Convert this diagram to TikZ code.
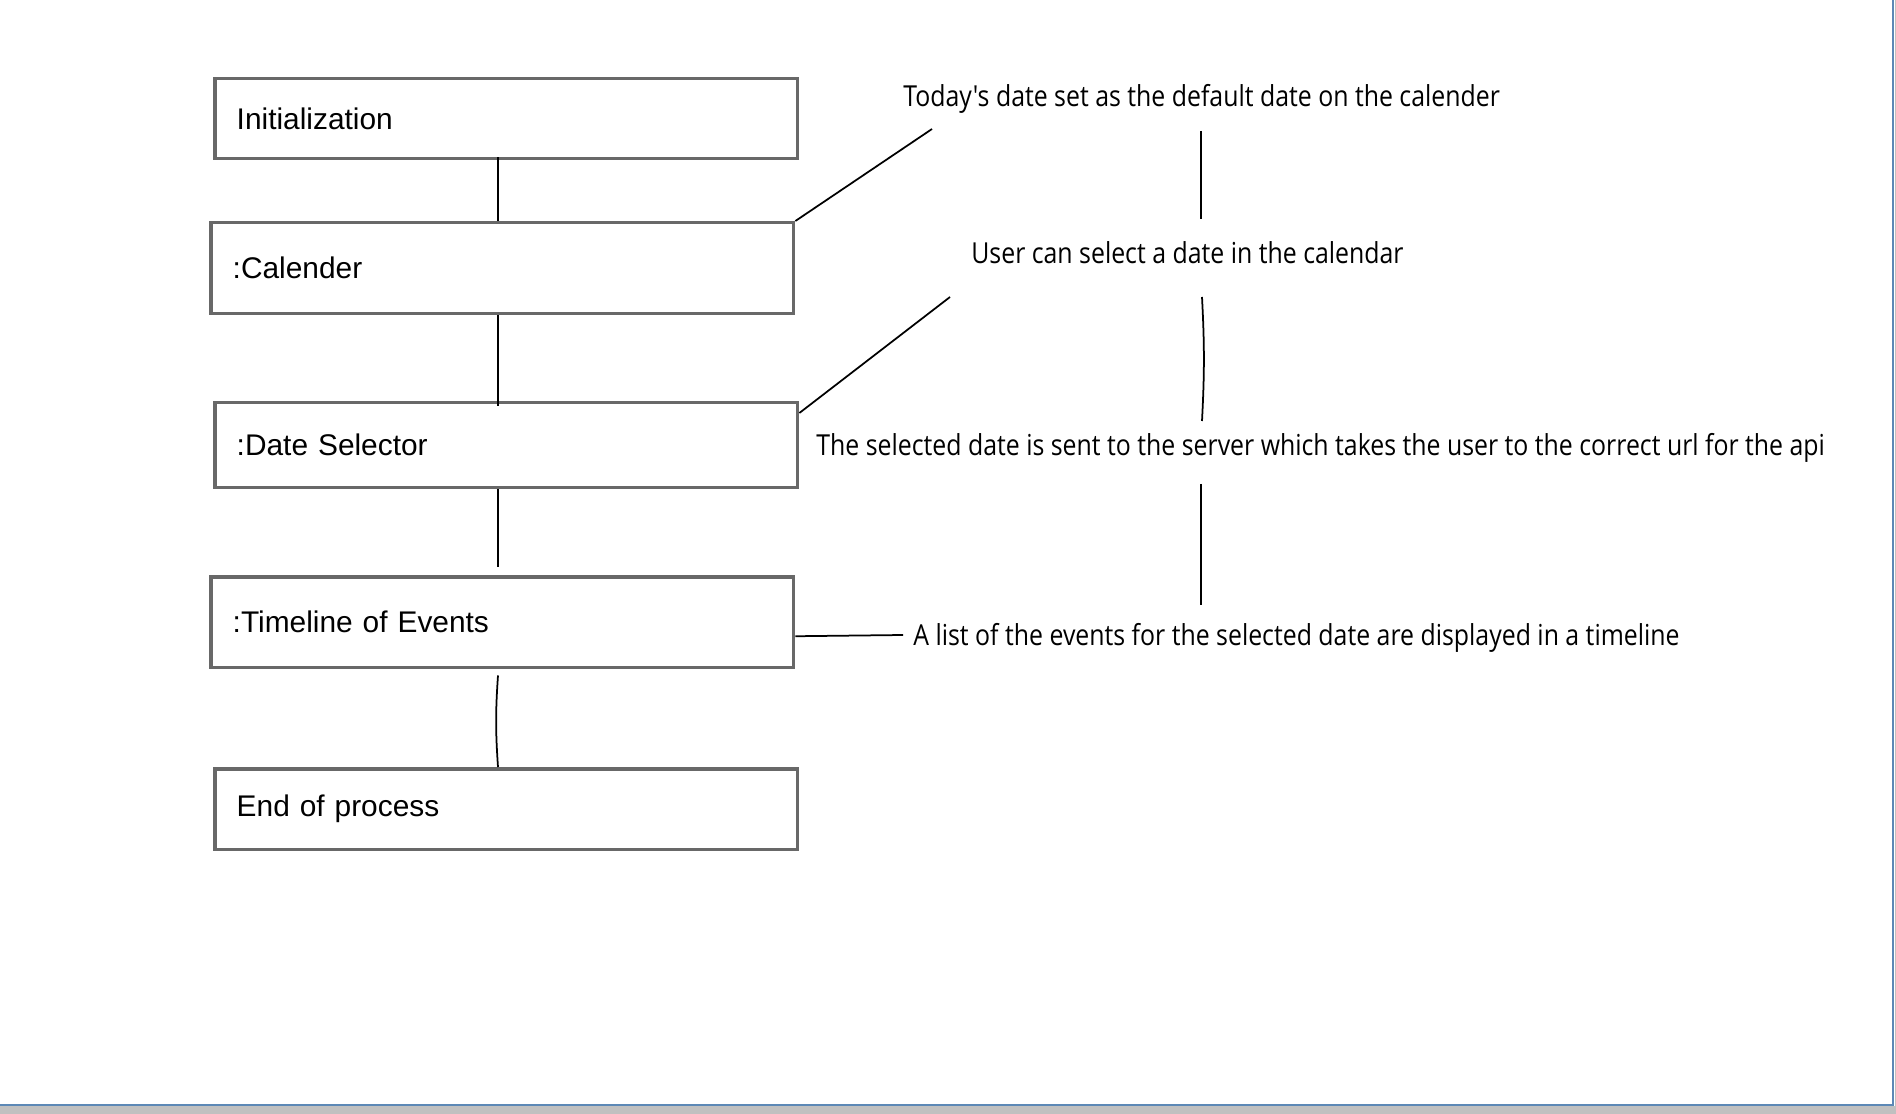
\documentclass[tikz,border=0pt]{standalone}
\usepackage{fontspec}
\setmainfont{Liberation Sans}
\newfontfamily\notefont{Open Sans}[FakeStretch=0.86]
\definecolor{boxgray}{RGB}{104,104,104}
\definecolor{frameblue}{RGB}{92,136,182}
\definecolor{shadegray}{RGB}{192,192,192}
\tikzset{
  box/.style={draw=boxgray,line width=0.07cm,text width=10.78cm,inner xsep=0.44cm,
    minimum height=#1,align=left,anchor=north west,font=\fontsize{17}{20}\selectfont},
  note/.style={anchor=west,inner sep=0pt,font=\notefont\fontsize{16.45}{19}\selectfont},
  wire/.style={line width=0.035cm}
}
\begin{document}
\begin{tikzpicture}[x=0.02cm,y=-0.02cm]
\useasboundingbox (0,0) rectangle (1896,1114);
\fill[shadegray] (0,1106) rectangle (1896,1114);
\fill[shadegray] (1895,0) rectangle (1896,1114);
\draw[frameblue,line width=0.045cm] (0,1105) -- (1893,1105) -- (1893,0);
\node[box=1.6cm] (init) at (213,77) {Initialization};
\node[box=1.82cm] (cal) at (209,221) {:Calender};
\node[box=1.7cm] (sel) at (213,401) {:Date Selector};
\node[box=1.82cm] (tl) at (209,575) {:Timeline of Events};
\node[box=1.62cm] (end) at (213,767) {End of process};
\coordinate (spine) at (498,0);
\draw[wire] ([yshift=0.06cm]init.south -| spine) -- (cal.north -| spine);
\draw[wire] (cal.south -| spine) -- ([yshift=-0.1cm]sel.north -| spine);
\draw[wire] (sel.south -| spine) -- ([yshift=0.16cm]tl.north -| spine);
\draw[wire] ([yshift=-0.12cm]tl.south -| spine) to[bend right=4] (end.north -| spine);
\node[note] (n1) at (903,99) {Today's date set as the default date on the calender};
\node[note] (n2) at (971,253) {User can select a date in the calendar};
\node[note] (n3) at (816,448) {The selected date is sent to the server which takes the user to the correct url for the api};
\node[note] (n4) at (913,638) {A list of the events for the selected date are displayed in a timeline};
\coordinate (d1) at (932,129);
\coordinate (d2) at (950,297);
\coordinate (v1a) at (1201,131);
\coordinate (v1b) at (1201,219);
\coordinate (v2a) at (1202,297);
\coordinate (v2b) at (1202,421);
\coordinate (v3a) at (1201,484);
\coordinate (v3b) at (1201,605);
\draw[wire] (cal.north east) -- (d1);
\draw[wire] ([yshift=-0.24cm]sel.north east) -- (d2);
\draw[wire] (v1a) -- (v1b);
\draw[wire] (v2a) to[bend left=3] (v2b);
\draw[wire] (v3a) -- (v3b);
\draw[wire] ([yshift=-0.28cm]tl.east) -- ([xshift=-0.2cm,yshift=0.06cm]n4.west);
\end{tikzpicture}
\end{document}
